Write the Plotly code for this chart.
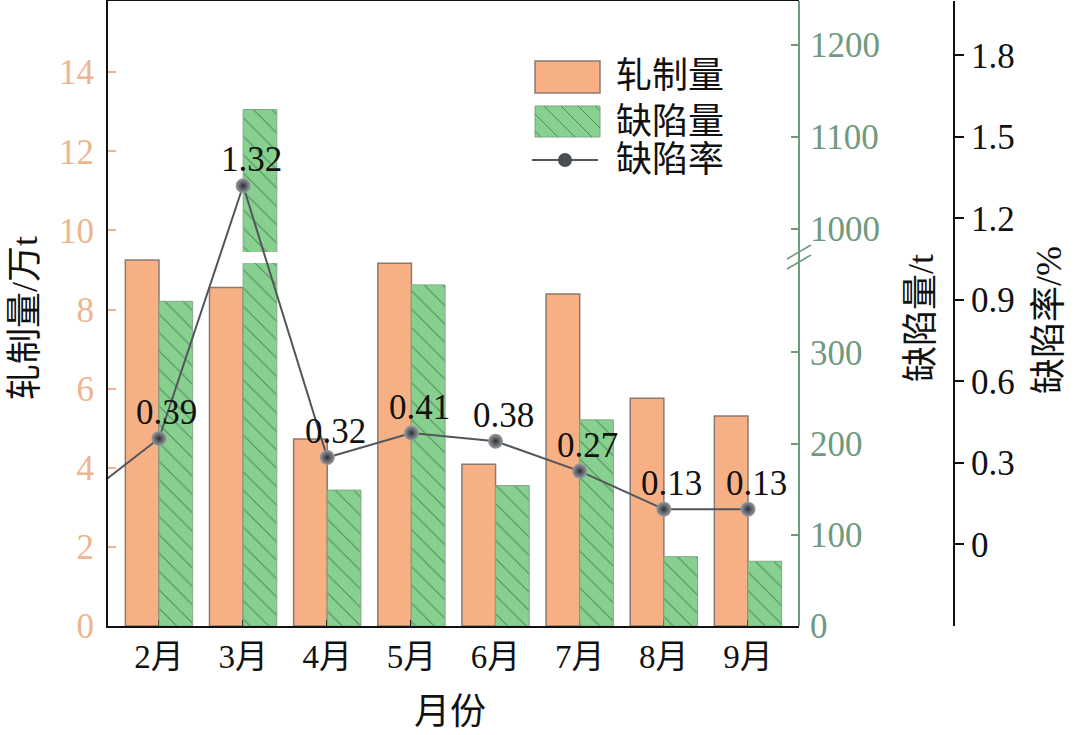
import plotly.graph_objects as go

# ---------------- data ----------------
months = ['1月', '2月', '3月', '4月', '5月', '6月', '7月', '8月', '9月']
bar_months = months[1:]
rolling_qty = [9.25, 8.56, 4.73, 9.17, 4.09, 8.39, 5.76, 5.31]      # 轧制量 / 万t
defect_qty = [356, 1130, 149, 374, 154, 226, 76, 71]                 # 缺陷量 / t
defect_rate = [0.15, 0.39, 1.32, 0.32, 0.41, 0.38, 0.27, 0.13, 0.13]  # 缺陷率 / %
rate_labels = ['0.39', '1.32', '0.32', '0.41', '0.38', '0.27', '0.13', '0.13']

left_ticks = [0, 2, 4, 6, 8, 10, 12, 14]
qty_ticks_low = [0, 100, 200, 300]
qty_ticks_high = [1000, 1100, 1200]
rate_ticks = [0, 0.3, 0.6, 0.9, 1.2, 1.5, 1.8]
rate_ticktext = ['0', '0.3', '0.6', '0.9', '1.2', '1.5', '1.8']

# ---------------- style ----------------
FONT = "Liberation Serif, Noto Sans CJK SC, serif"
ORANGE = '#F6B083'
ORANGE_EDGE = '#8A7A72'
ORANGE_TXT = '#EDB58F'
GREEN = '#88D08F'
GREEN_HATCH = '#4F8C5B'
GREEN_EDGE = '#7FA888'
GREEN_AX = '#6E9A7E'
LINE = '#52565C'
CLEAR = 'rgba(0,0,0,0)'

W, H = 1080, 735
L, R, T, B = 108, 126, 1, 109
PW, PH = W - L - R, H - T - B


def PX(x):
    return (x - L) / PW


def PY(y):
    return (H - B - y) / PH


XDOM_END = PX(799)
LOW_TOP = PY(263)
HIGH_BOT = PY(252)

fig = go.Figure()

fig.add_trace(go.Bar(
    x=bar_months, y=rolling_qty, name='轧制量', xaxis='x', yaxis='y',
    width=0.4, offset=-0.4,
    marker=dict(color=ORANGE, line=dict(color=ORANGE_EDGE, width=1.5)),
    showlegend=False,
))

for ax in ['y2', 'y3']:
    fig.add_trace(go.Bar(
        x=bar_months, y=defect_qty, name='缺陷量', xaxis='x', yaxis=ax,
        width=0.4, offset=0.0,
        marker=dict(color=GREEN, line=dict(color=GREEN_EDGE, width=1),
                    pattern=dict(shape='\\', fgcolor=GREEN_HATCH, bgcolor=GREEN,
                                 size=13, solidity=0.08, fillmode='replace')),
        showlegend=False,
    ))

fig.add_trace(go.Scatter(
    x=months, y=defect_rate, name='缺陷率', xaxis='x', yaxis='y4',
    mode='lines+markers',
    line=dict(color=LINE, width=2),
    marker=dict(size=15, color='#9A9EA3', gradient=dict(type='radial', color='#2C3035'),
                line=dict(width=0)),
    cliponaxis=True, showlegend=False,
))

annotations = []
for m, v, t in zip(bar_months, defect_rate[1:], rate_labels):
    annotations.append(dict(x=m, y=v, xref='x', yref='y4', text=t, showarrow=False,
                            xshift=8, yshift=26, yanchor='middle',
                            font=dict(family=FONT, size=35, color='#111111')))

title_font = dict(family=FONT, size=36, color='#111111')
annotations += [
    dict(x=PX(25), y=PY(318), xref='paper', yref='paper', text='轧制量/万t', textangle=-90,
         showarrow=False, font=title_font, xanchor='center', yanchor='middle'),
    dict(x=PX(921), y=PY(318), xref='paper', yref='paper', text='缺陷量/t', textangle=-90,
         showarrow=False, font=title_font, xanchor='center', yanchor='middle'),
    dict(x=PX(1049), y=PY(320), xref='paper', yref='paper', text='缺陷率/%', textangle=-90,
         showarrow=False, font=title_font, xanchor='center', yanchor='middle'),
    dict(x=PX(450), y=PY(712), xref='paper', yref='paper', text='月份',
         showarrow=False, font=title_font, xanchor='center', yanchor='middle'),
]

# manual legend
leg_font = dict(family=FONT, size=36, color='#111111')
for txt, yc in [('轧制量', 76), ('缺陷量', 122), ('缺陷率', 160)]:
    annotations.append(dict(x=PX(614), y=PY(yc), xref='paper', yref='paper', text=txt,
                            showarrow=False, xanchor='left', yanchor='middle', font=leg_font))

shapes = []
shapes.append(dict(type='rect', xref='paper', yref='paper', x0=PX(535), x1=PX(600),
                   y0=PY(61), y1=PY(93), fillcolor=ORANGE, line=dict(color=ORANGE_EDGE, width=1.5)))
gx0, gx1, gy0, gy1 = 535, 600, 106, 137
shapes.append(dict(type='rect', xref='paper', yref='paper', x0=PX(gx0), x1=PX(gx1),
                   y0=PY(gy0), y1=PY(gy1), fillcolor=GREEN, line=dict(color=GREEN_EDGE, width=1)))
for k in range(-25, 66, 17):
    y_start = max(gy0, gy0 - k)
    y_end = min(gy1, gy0 + (gx1 - gx0) - k)
    if y_end > y_start:
        shapes.append(dict(type='line', xref='paper', yref='paper',
                           x0=PX(gx0 + (y_start - gy0) + k), y0=PY(y_start),
                           x1=PX(gx0 + (y_end - gy0) + k), y1=PY(y_end),
                           line=dict(color=GREEN_HATCH, width=1)))
shapes.append(dict(type='line', xref='paper', yref='paper', x0=PX(532), x1=PX(598),
                   y0=PY(160), y1=PY(160), line=dict(color=LINE, width=2)))
shapes.append(dict(type='circle', xref='paper', yref='paper', x0=PX(558), x1=PX(572),
                   y0=PY(153), y1=PY(167), fillcolor='#4A4E54', line=dict(width=0)))

# continuous green axis line and break marks
shapes.append(dict(type='line', xref='paper', yref='paper', x0=XDOM_END, x1=XDOM_END,
                   y0=0, y1=1, line=dict(color=GREEN_AX, width=2)))
for dy in (0, 10):
    shapes.append(dict(type='line', xref='paper', yref='paper', x0=PX(787), x1=PX(811),
                       y0=PY(259 + dy), y1=PY(245 + dy), line=dict(color=GREEN_AX, width=1.5)))

fig.update_layout(
    width=W, height=H,
    margin=dict(l=L, r=R, t=T, b=B, autoexpand=False),
    paper_bgcolor='white', plot_bgcolor=CLEAR,
    barmode='overlay', showlegend=False,
    font=dict(family=FONT, size=35, color='#111111'),
    xaxis=dict(type='category', categoryorder='array', categoryarray=months,
               domain=[0, XDOM_END], range=[0.394, 8.606], anchor='y',
               showline=True, linecolor='#111111', linewidth=2, mirror=True,
               ticks='inside', ticklen=6, tickwidth=2, tickcolor='#111111',
               tickfont=dict(family=FONT, size=33, color='#111111'),
               ticklabelstandoff=0, showgrid=False, zeroline=False),
    yaxis=dict(domain=[0, 1], range=[0, 15.8], anchor='x', side='left',
               tickvals=left_ticks, showline=True, linecolor='#111111', linewidth=2,
               ticks='inside', ticklen=8, tickwidth=1.5, tickcolor=ORANGE_TXT,
               tickfont=dict(family=FONT, size=35, color=ORANGE_TXT),
               ticklabelstandoff=5, showgrid=False, zeroline=False),
    yaxis2=dict(domain=[0, LOW_TOP], range=[0, 398], anchor='x', side='right',
                tickvals=qty_ticks_low, showline=False,
                ticks='inside', ticklen=8, tickwidth=1.5, tickcolor=GREEN_AX,
                tickfont=dict(family=FONT, size=35, color=GREEN_AX),
                ticklabelstandoff=10, showgrid=False, zeroline=False),
    yaxis3=dict(domain=[HIGH_BOT, 1], range=[975, 1248], anchor='x', side='right',
                tickvals=qty_ticks_high, showline=False,
                ticks='inside', ticklen=8, tickwidth=1.5, tickcolor=GREEN_AX,
                tickfont=dict(family=FONT, size=35, color=GREEN_AX),
                ticklabelstandoff=10, showgrid=False, zeroline=False),
    yaxis4=dict(domain=[0, 1], anchor='free', position=1.0, side='right',
                range=[-0.3, 2.0], tickvals=rate_ticks, ticktext=rate_ticktext,
                showline=True, linecolor='#111111', linewidth=2,
                ticks='outside', ticklen=9, tickwidth=2, tickcolor='#111111',
                tickfont=dict(family=FONT, size=35, color='#111111'),
                showgrid=False, zeroline=False),
    annotations=annotations,
    shapes=shapes,
)

fig.write_html("out.html")
